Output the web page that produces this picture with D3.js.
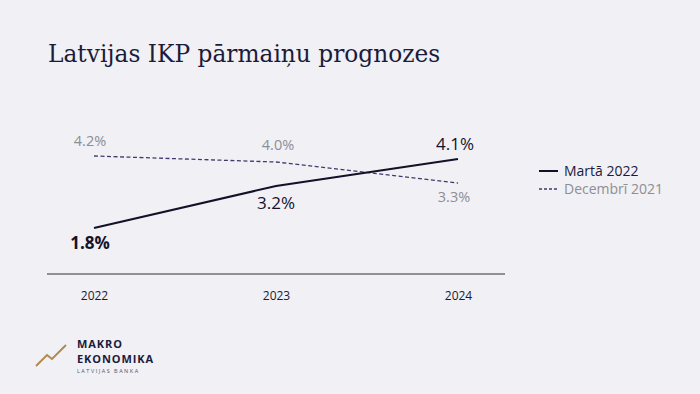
<!DOCTYPE html>
<html>
<head>
<meta charset="utf-8">
<script src="https://cdn.jsdelivr.net/npm/d3@7"></script>
<style>
  body { margin: 0; background: #f0f0f5; }
  svg { display: block; font-family: "Open Sans", "Noto Sans", sans-serif; }
</style>
</head>
<body>
<div id="chart"></div>
<script>
// data
const years = ["2022", "2023", "2024"];
const marts2022 = [1.8, 3.2, 4.1];
const decembris2021 = [4.2, 4.0, 3.3];
const seriesNames = ["Martā 2022", "Decembrī 2021"];

const width = 700;
const height = 394;

const svg = d3.select("#chart")
  .append("svg")
    .attr("width", width)
    .attr("height", height);

svg.append("rect")
  .attr("width", width)
  .attr("height", height)
  .attr("fill", "#f0f0f5");

// title
svg.append("text")
  .attr("x", 48)
  .attr("y", 62)
  .attr("font-family", "'DejaVu Serif', 'Liberation Serif', serif")
  .attr("font-size", 23.3)
  .attr("fill", "#1c1b3a")
  .text("Latvijas IKP pārmaiņu prognozes");

// scales
const x = d3.scalePoint()
  .domain(years)
  .range([94, 458]);

const y = d3.scaleLinear()
  .domain([1.8, 4.2])
  .range([228, 156]);

// x axis
const xAxis = svg.append("g")
  .attr("transform", "translate(0,274)")
  .call(d3.axisBottom(x).tickSize(0).tickPadding(17));
xAxis.select(".domain").remove();
xAxis.selectAll("text")
  .attr("font-family", "'Open Sans', sans-serif")
  .attr("font-size", 12)
  .attr("fill", "#1c1b2e");

svg.append("line")
  .attr("x1", 47)
  .attr("x2", 505)
  .attr("y1", 274)
  .attr("y2", 274)
  .attr("stroke", "#333")
  .attr("stroke-width", 1);

const line = d3.line()
  .x((d, i) => x(years[i]))
  .y(d => y(d));

// december 2021 dashed
svg.append("path")
  .datum(decembris2021)
  .attr("d", line)
  .attr("fill", "none")
  .attr("stroke", "#3d3a6e")
  .attr("stroke-width", 1.3)
  .attr("stroke-dasharray", "4,2.5");

// march 2022 solid
svg.append("path")
  .datum(marts2022)
  .attr("d", line)
  .attr("fill", "none")
  .attr("stroke", "#121128")
  .attr("stroke-width", 2);

// labels for dashed series
const decOffsets = [-10, -12, 19];
const decDx = [-4, 2, -4];
svg.selectAll(".label-dec")
  .data(decembris2021)
  .join("text")
    .attr("class", "label-dec")
    .attr("x", (d, i) => x(years[i]) + decDx[i])
    .attr("y", (d, i) => y(d) + decOffsets[i])
    .attr("text-anchor", "middle")
    .attr("font-size", 14.5)
    .attr("fill", "#8e8e93")
    .text(d => d.toFixed(1) + "%");

// labels for solid series
const marOffsets = [21, 23, -9];
const marDx = [-4, 0, -3];
svg.selectAll(".label-mar")
  .data(marts2022)
  .join("text")
    .attr("class", "label-mar")
    .attr("x", (d, i) => x(years[i]) + marDx[i])
    .attr("y", (d, i) => y(d) + marOffsets[i])
    .attr("text-anchor", "middle")
    .attr("font-size", 17)
    .attr("font-weight", (d, i) => i === 0 ? "bold" : "normal")
    .attr("fill", "#14132b")
    .text(d => d.toFixed(1) + "%");

// legend
const legend = svg.selectAll(".legend")
  .data(seriesNames)
  .join("g")
    .attr("class", "legend")
    .attr("transform", (d, i) => `translate(539,${171 + i * 18})`);

legend.append("line")
  .attr("x1", 0)
  .attr("x2", 19)
  .attr("stroke", (d, i) => i === 0 ? "#121128" : "#3d3a6e")
  .attr("stroke-width", (d, i) => i === 0 ? 2 : 1.3)
  .attr("stroke-dasharray", (d, i) => i === 0 ? null : "3,2");

legend.append("text")
  .attr("x", 25)
  .attr("dy", "0.35em")
  .attr("font-size", 14)
  .attr("fill", (d, i) => i === 0 ? "#1c1b3a" : "#8e8e93")
  .text(d => d);

// logo
const logo = svg.append("g");
logo.append("path")
  .attr("d", d3.line()([[36, 366], [47, 355], [52, 359], [66, 345]]))
  .attr("fill", "none")
  .attr("stroke", "#b08b4f")
  .attr("stroke-width", 2);

logo.append("text")
  .attr("x", 77)
  .attr("y", 348)
  .attr("font-size", 11)
  .attr("font-weight", "bold")
  .attr("letter-spacing", 0.9)
  .attr("fill", "#1c1b3a")
  .text("MAKRO");

logo.append("text")
  .attr("x", 77)
  .attr("y", 363)
  .attr("font-size", 11)
  .attr("font-weight", "bold")
  .attr("letter-spacing", 0.9)
  .attr("fill", "#1c1b3a")
  .text("EKONOMIKA");

logo.append("text")
  .attr("x", 77)
  .attr("y", 372.5)
  .attr("font-size", 5.5)
  .attr("letter-spacing", 1.5)
  .attr("fill", "#55546a")
  .text("LATVIJAS BANKA");
</script>
</body>
</html>
